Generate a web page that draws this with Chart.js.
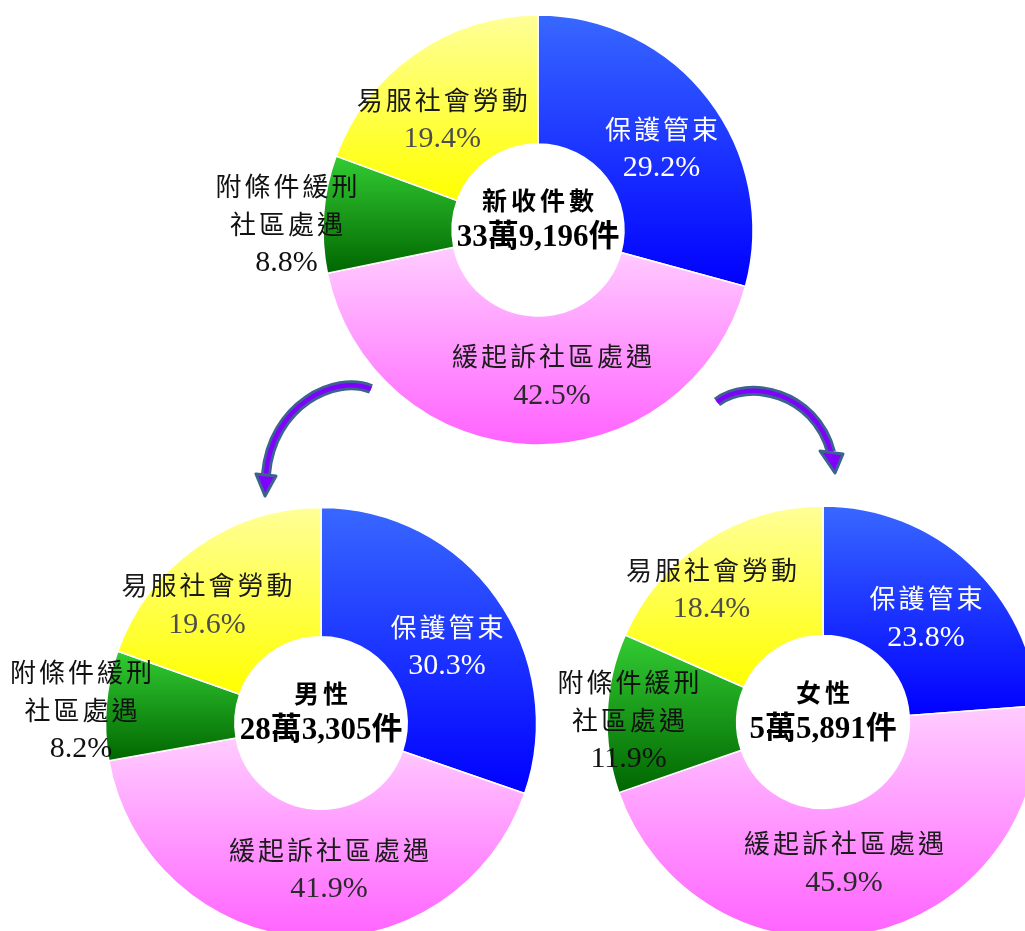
<!DOCTYPE html>
<html>
<head>
<meta charset="utf-8">
<script src="https://cdn.jsdelivr.net/npm/chart.js@4.4.1/dist/chart.umd.min.js"></script>
<style>
  html, body { margin: 0; padding: 0; background: #fff; }
  #page { position: relative; width: 1025px; height: 931px; overflow: hidden; }
  .layer { position: absolute; left: 0; top: 0; width: 1050px; height: 960px; }
  #arrows { position: absolute; left: 0; top: 0; }
</style>
</head>
<body>
<div id="page">
  <svg id="arrows" width="1025" height="931"></svg>
  <div class="layer"><canvas id="chart-total"></canvas></div>
  <div class="layer"><canvas id="chart-male"></canvas></div>
  <div class="layer"><canvas id="chart-female"></canvas></div>
</div>
<script>
// categories, clockwise from 12 o'clock
const categories = ['保護管束', '緩起訴社區處遇', '附條件緩刑\n社區處遇', '易服社會勞動'];
const totalShares = [29.2, 42.5, 8.8, 19.4];
const maleShares = [30.3, 41.9, 8.2, 19.6];
const femaleShares = [23.8, 45.9, 11.9, 18.4];
const chartTitles = ['新收件數', '男性', '女性'];
const caseCounts = [339196, 283305, 55891];

const HOLE = 0.4;
const LAYER_W = 1050, LAYER_H = 960;
const fillStops = [
  ['#3868ff', '#0000ff'],
  ['#ffccff', '#ff62ff'],
  ['#33cc33', '#006600'],
  ['#ffff99', '#ffff00'],
];
const nameColors = ['#ffffff', '#1a1a1a', '#111111', '#1a1a1a'];
const pctColors = ['#ffffff', '#2a2a2a', '#111111', '#4d4d4d'];

function formatCount(n) {
  const wan = Math.floor(n / 10000);
  const rest = n % 10000;
  return `${wan}萬${rest.toLocaleString('en-US')}件`;
}

// vertical gradient fitted to each slice's own height
function sliceFill(ctx) {
  const i = ctx.dataIndex;
  if (i === undefined) return '#cccccc';
  const [c0, c1] = fillStops[i];
  const chart = ctx.chart;
  const area = chart.chartArea;
  if (!area) return c1;
  const data = ctx.dataset.data;
  const total = data.reduce((s, v) => s + v, 0);
  let before = 0;
  for (let j = 0; j < i; j++) before += data[j];
  const a0 = -Math.PI / 2 + 2 * Math.PI * before / total;
  const a1 = a0 + 2 * Math.PI * data[i] / total;
  const cy = (area.top + area.bottom) / 2;
  const R = Math.min(area.width, area.height) / 2;
  let ymin = Infinity, ymax = -Infinity;
  for (let s = 0; s <= 60; s++) {
    const a = a0 + (a1 - a0) * s / 60;
    for (const rr of [R * HOLE, R]) {
      const y = cy + Math.sin(a) * rr;
      ymin = Math.min(ymin, y);
      ymax = Math.max(ymax, y);
    }
  }
  const g = chart.ctx.createLinearGradient(0, ymin, 0, ymax);
  g.addColorStop(0, c0);
  g.addColorStop(1, c1);
  return g;
}

const sliceLabels = {
  id: 'sliceLabels',
  afterDatasetsDraw(chart, args, opts) {
    const { ctx } = chart;
    const values = chart.data.datasets[0].data;
    chart.getDatasetMeta(0).data.forEach((arc, i) => {
      const p = arc.getProps(['x', 'y', 'startAngle', 'endAngle', 'outerRadius'], true);
      const [dDeg, k] = opts.nudges[i];
      const a = (p.startAngle + p.endAngle) / 2 + dDeg * Math.PI / 180;
      const lx = p.x + Math.cos(a) * p.outerRadius * k;
      const ly = p.y + Math.sin(a) * p.outerRadius * k;
      const lines = categories[i].split('\n');
      const n = lines.length + 1;
      const lh = 37.5;
      ctx.save();
      ctx.textAlign = 'center';
      ctx.textBaseline = 'middle';
      lines.forEach((t, j) => {
        ctx.font = "26px 'Noto Sans CJK TC'";
        ctx.letterSpacing = '3px';
        ctx.fillStyle = nameColors[i];
        ctx.fillText(t, lx + 1.5, ly + (j - (n - 1) / 2) * lh);
      });
      ctx.font = "30px 'Liberation Serif'";
      ctx.letterSpacing = '0px';
      ctx.fillStyle = pctColors[i];
      ctx.fillText(values[i].toFixed(1) + '%', lx, ly + (n - 1 - (n - 1) / 2) * lh + 2);
      ctx.restore();
    });
  },
};

const centerText = {
  id: 'centerText',
  afterDraw(chart, args, opts) {
    const { ctx } = chart;
    const arc = chart.getDatasetMeta(0).data[0];
    const { x, y } = arc.getProps(['x', 'y'], true);
    ctx.save();
    ctx.textAlign = 'center';
    ctx.textBaseline = 'middle';
    ctx.fillStyle = '#000';
    ctx.font = "bold 25px 'Noto Sans CJK TC'";
    ctx.letterSpacing = '4px';
    ctx.fillText(opts.title, x + 2, y - 30);
    ctx.font = "bold 31px 'Liberation Serif', 'Noto Sans CJK TC'";
    ctx.letterSpacing = '0px';
    ctx.fillText(opts.count, x, y + 8);
    ctx.restore();
  },
};

function makeDonut(id, shares, title, count, box, nudges) {
  const size = 2 * box.r + 1.5;
  const left = box.cx - size / 2;
  const top = box.cy - size / 2;
  return new Chart(document.getElementById(id), {
    type: 'doughnut',
    data: {
      labels: categories.map(c => c.replace('\n', '')),
      datasets: [{ data: shares, backgroundColor: sliceFill, borderColor: '#ffffff', borderWidth: 1.5 }],
    },
    options: {
      responsive: true,
      maintainAspectRatio: false,
      animation: false,
      events: [],
      cutout: (HOLE * 100) + '%',
      layout: { padding: { left, top, right: LAYER_W - left - size, bottom: LAYER_H - top - size } },
      plugins: {
        legend: { display: false },
        tooltip: { enabled: false },
        sliceLabels: { nudges },
        centerText: { title, count },
      },
    },
    plugins: [sliceLabels, centerText],
  });
}

// label placement: [angle offset from slice middle (deg), distance as share of outer radius]
makeDonut('chart-total', totalShares, chartTitles[0], formatCount(caseCounts[0]),
  { cx: 538, cy: 230, r: 215 },
  [[3.7, 0.69], [-7.3, 0.678], [-2.8, 1.17], [-5.7, 0.683]]);
makeDonut('chart-male', maleShares, chartTitles[1], formatCount(caseCounts[1]),
  { cx: 321, cy: 723, r: 215.5 },
  [[3.9, 0.686], [-7.6, 0.676], [-1.6, 1.115], [-8.5, 0.765]]);
makeDonut('chart-female', femaleShares, chartTitles[2], formatCount(caseCounts[2]),
  { cx: 823, cy: 722, r: 216 },
  [[1.7, 0.68], [3.2, 0.656], [-1.7, 0.9], [-6.8, 0.805]]);

// curved arrows from the total chart down to the two gender charts
function drawArrow(svg, d, head) {
  const ns = 'http://www.w3.org/2000/svg';
  const outline = document.createElementNS(ns, 'path');
  outline.setAttribute('d', d);
  outline.setAttribute('fill', 'none');
  outline.setAttribute('stroke', '#3c6290');
  outline.setAttribute('stroke-width', '10');
  svg.appendChild(outline);
  const inner = document.createElementNS(ns, 'path');
  inner.setAttribute('d', d);
  inner.setAttribute('fill', 'none');
  inner.setAttribute('stroke', '#8000ff');
  inner.setAttribute('stroke-width', '4.5');
  svg.appendChild(inner);
  const tip = document.createElementNS(ns, 'polygon');
  tip.setAttribute('points', head);
  tip.setAttribute('fill', '#8000ff');
  tip.setAttribute('stroke', '#3c6290');
  tip.setAttribute('stroke-width', '3');
  tip.setAttribute('stroke-linejoin', 'round');
  svg.appendChild(tip);
}
const svg = document.getElementById('arrows');
drawArrow(svg, 'M371,389 C335,374 272,405 266,474', '256,474 276,476 265,496');
drawArrow(svg, 'M717,402 C748,378 815,392 831,452', '820,451 843,454 835,473');
</script>
</body>
</html>
